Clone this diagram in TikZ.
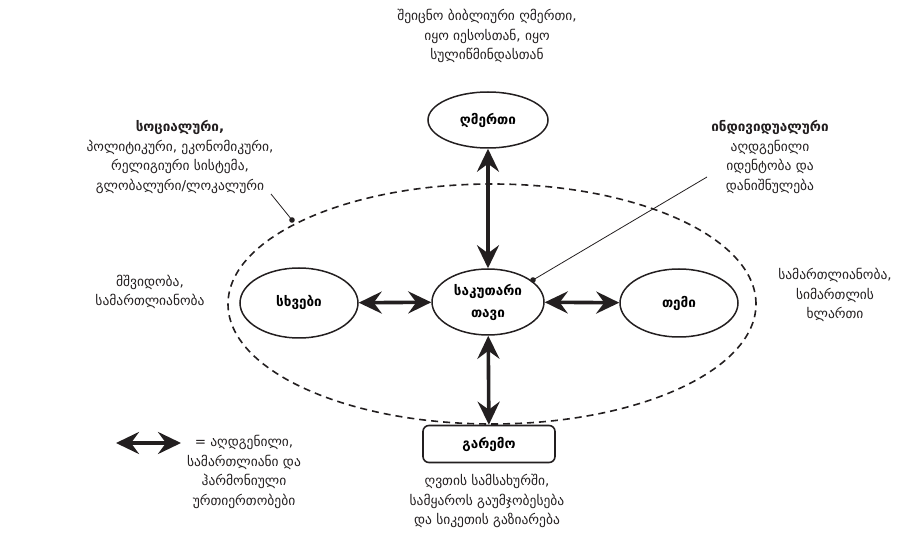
\documentclass[tikz,border=0pt]{standalone}
\usepackage{fontspec}
\setmainfont{DejaVu Sans}
\usetikzlibrary{shapes.geometric,arrows.meta}
\definecolor{ink}{HTML}{231F20}
\tikzset{
	blob/.style={ellipse, draw=ink, line width=1.5pt, inner sep=0pt, font=\bfseries\fontsize{13.5}{22}\selectfont},
	twoway/.style={{Stealth[length=23pt,width=22pt,inset=8pt]}-{Stealth[length=23pt,width=22pt,inset=8pt]}, line width=3.6pt, ink},
	note/.style={align=center, text=ink, font=\fontsize{13.5}{19.5}\selectfont}
}

\begin{document}
\begin{tikzpicture}[x=1pt,y=-1pt]
			\useasboundingbox (0,0) rectangle (906,540);
			\draw[ink, line width=1.6pt, dash pattern=on 7pt off 5pt] (492,304) ellipse (264pt and 120pt);
			\node[blob, minimum width=120pt, minimum height=56pt] (ghmerti) at (488,120) {ღმერთი};
			\node[blob, minimum width=112pt, minimum height=66pt, align=center] (self) at (488,302) {საკუთარი\\თავი};
			\node[blob, minimum width=118pt, minimum height=70pt] (skhvebi) at (299,303) {სხვები};
			\node[blob, minimum width=118pt, minimum height=68pt] (temi) at (679,303) {თემი};
			\node[draw=ink, line width=1.6pt, rounded corners=6pt, minimum width=132pt, minimum height=37pt, font=\bfseries\fontsize{13.5}{15}\selectfont] (garemo) at (489,444) {გარემო};
			\draw[twoway] (ghmerti) -- (self);
			\draw[twoway] (skhvebi) -- (self);
			\draw[twoway] (self) -- (temi);
			\draw[twoway] (self) -- (garemo);
			\node[note] (ghmertiNote) at (487,36) {შეიცნო ბიბლიური ღმერთი,\\იყო იესოსთან, იყო\\სულიწმინდასთან};
			\node[note] (socNote) at (180,157) {{\bfseries სოციალური,}\\პოლიტიკური, ეკონომიკური,\\რელიგიური სისტემა,\\გლობალური/ლოკალური};
			\node[note] (indNote) at (770,157) {{\bfseries ინდივიდუალური}\\აღდგენილი\\იდენტობა და\\დანიშნულება};
			\node[note] (skhvebiNote) at (150,292) {მშვიდობა,\\სამართლიანობა};
			\node[note] (temiNote) at (835,295) {სამართლიანობა,\\სიმართლის\\ხლართი};
			\node[note] (garemoNote) at (487,501) {ღვთის სამსახურში,\\სამყაროს გაუმჯობესება\\და სიკეთის გაზიარება};
			\node[note] (legendNote) at (244,472) {= აღდგენილი,\\სამართლიანი და\\ჰარმონიული\\ურთიერთობები};
			\coordinate (socEnd) at (271,194);
			\coordinate (socDot) at (292,220);
			\coordinate (indEnd) at (707,177);
			\coordinate (indDot) at (533,280);
			\draw[ink, line width=0.8pt] (socEnd) -- (socDot);
			\draw[ink, line width=0.8pt] (indEnd) -- (indDot);
			\fill[ink] (socDot) circle (2.8pt);
			\fill[ink] (indDot) circle (2.8pt);
			\coordinate (legA) at (116,443);
			\coordinate (legB) at (181,443);
			\draw[twoway] (legA) -- (legB);
		\end{tikzpicture}
\end{document}
